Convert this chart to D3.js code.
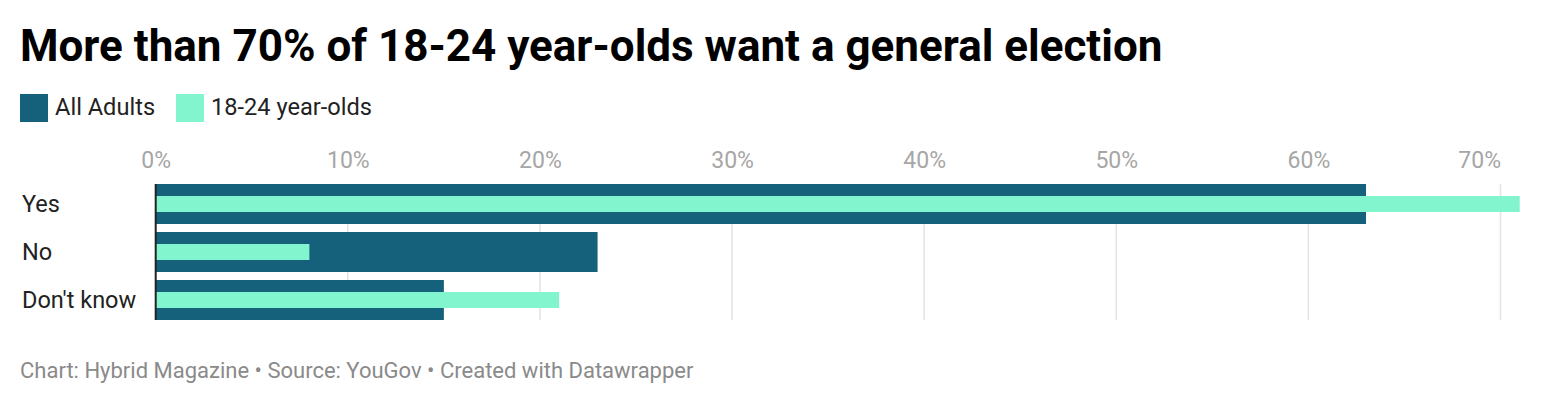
<!DOCTYPE html>
<html>
<head>
<meta charset="utf-8">
<script src="https://cdn.jsdelivr.net/npm/d3@7"></script>
<style>
  body { margin: 0; background: #fff; }
  svg { display: block; font-family: Roboto, sans-serif; }
</style>
</head>
<body>
<svg width="1560" height="408"></svg>
<script>
// data
var categories = ["Yes", "No", "Don't know"];
var allAdults = [63, 23, 15];
var youngAdults = [71, 8, 21];
var seriesNames = ["All Adults", "18-24 year-olds"];
var tickValues = [0, 10, 20, 30, 40, 50, 60, 70];

var darkColor = "#15607a",
    lightColor = "#82f5cf";

var svg = d3.select("svg");

svg.append("text")
    .attr("x", 20)
    .attr("y", 61)
    .style("font-size", "44px")
    .style("font-weight", "bold")
    .attr("fill", "#000")
    .text("More than 70% of 18-24 year-olds want a general election");

// legend
var legend = svg.append("g");
var legendX = [20, 176];
seriesNames.forEach(function(name, i) {
    legend.append("rect")
        .attr("x", legendX[i])
        .attr("y", 94)
        .attr("width", 28)
        .attr("height", 28)
        .attr("fill", i == 0 ? darkColor : lightColor);
    legend.append("text")
        .attr("x", legendX[i] + 35)
        .attr("y", 115)
        .style("font-size", "23.6px")
        .attr("fill", "#222")
        .text(name);
});

var x = d3.scaleLinear()
    .domain([0, 70])
    .range([155.7, 1500.5]);

var y = d3.scaleBand()
    .domain(categories)
    .range([184, 320])
    .paddingInner(1 / 6)
    .paddingOuter(0);

// gridlines
svg.append("g")
    .selectAll("line")
    .data(tickValues.slice(1))
    .enter().append("line")
    .attr("x1", function(d) { return x(d); })
    .attr("x2", function(d) { return x(d); })
    .attr("y1", 184)
    .attr("y2", 320)
    .attr("stroke", "#e3e3e3")
    .attr("stroke-width", 1.5);

// tick labels
var axis = d3.axisTop(x)
    .tickValues(tickValues)
    .tickSize(0)
    .tickPadding(0)
    .tickFormat(function(d) { return d + "%"; });

var axisG = svg.append("g")
    .attr("transform", "translate(0,168)")
    .call(axis);
axisG.select(".domain").remove();
axisG.selectAll("text")
    .attr("dy", 0)
    .style("font-family", "Roboto, sans-serif")
    .style("font-size", "23px")
    .attr("fill", "#a6a6a6")
    .attr("text-anchor", function(d, i) { return i == tickValues.length - 1 ? "end" : "middle"; });

// bars
svg.append("g")
    .selectAll("rect")
    .data(categories)
    .enter().append("rect")
    .attr("x", x(0))
    .attr("y", function(d) { return y(d); })
    .attr("width", function(d, i) { return x(allAdults[i]) - x(0); })
    .attr("height", y.bandwidth())
    .attr("fill", darkColor);

svg.append("g")
    .selectAll("rect")
    .data(categories)
    .enter().append("rect")
    .attr("x", x(0))
    .attr("y", function(d) { return y(d) + y.bandwidth() * 0.3; })
    .attr("width", function(d, i) { return x(youngAdults[i]) - x(0); })
    .attr("height", y.bandwidth() * 0.4)
    .attr("fill", lightColor);

// baseline
svg.append("line")
    .attr("x1", x(0))
    .attr("x2", x(0))
    .attr("y1", 184)
    .attr("y2", 320)
    .attr("stroke", "#222")
    .attr("stroke-width", 2);

// category labels
svg.append("g")
    .selectAll("text")
    .data(categories)
    .enter().append("text")
    .attr("x", 22)
    .attr("y", function(d) { return y(d) + y.bandwidth() / 2 + 8; })
    .style("font-size", "23.5px")
    .attr("fill", "#222")
    .text(function(d) { return d; });

svg.append("text")
    .attr("x", 20)
    .attr("y", 378)
    .style("font-size", "22px")
    .attr("fill", "#8a8a8a")
    .text("Chart: Hybrid Magazine \u2022 Source: YouGov \u2022 Created with Datawrapper");
</script>
</body>
</html>
